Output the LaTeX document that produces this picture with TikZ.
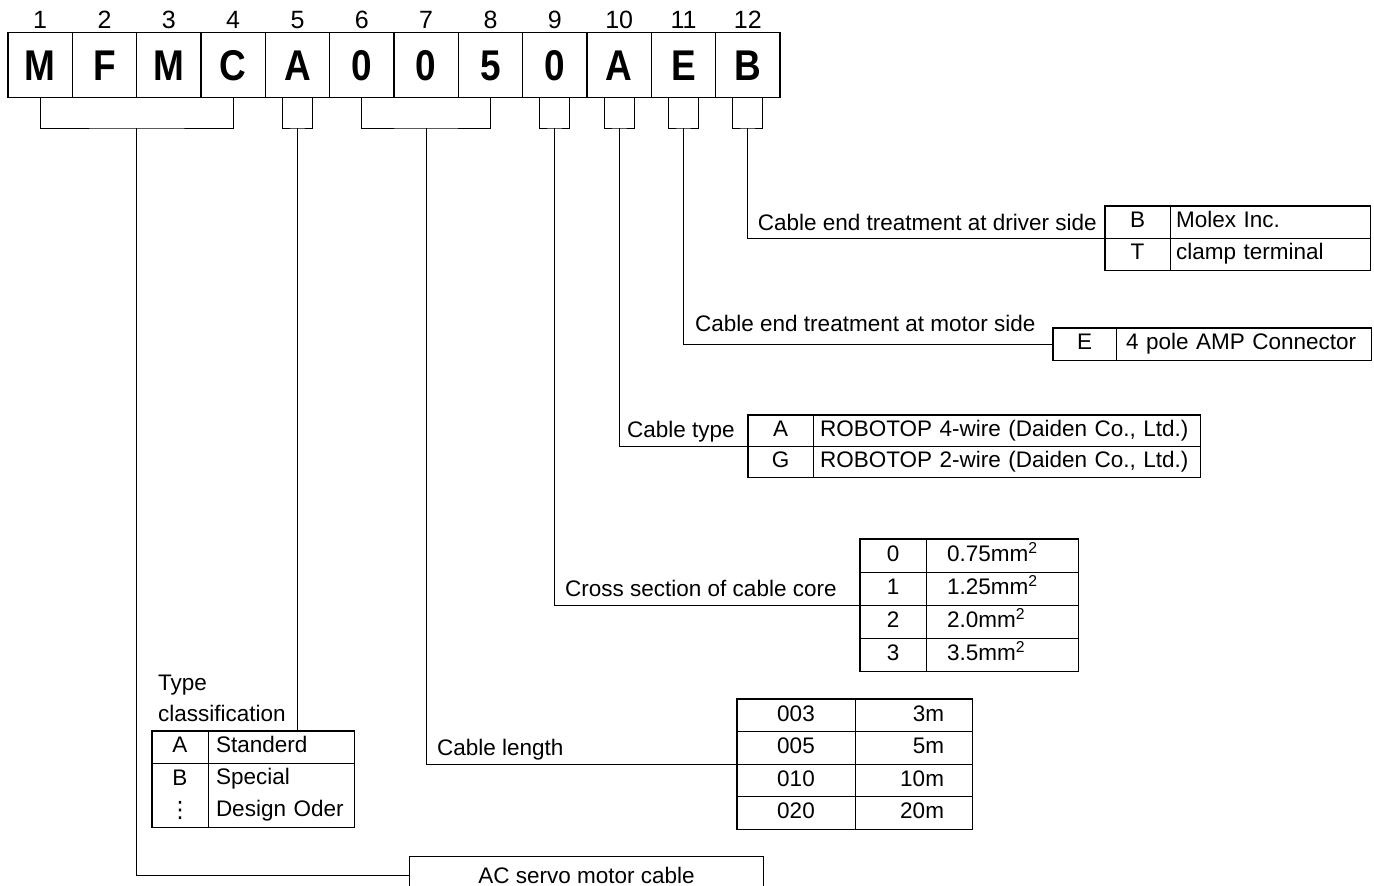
\documentclass[tikz,border=0pt]{standalone}
\usepackage{fontspec}
\setmainfont{Liberation Sans}
\newfontfamily\codefont{Liberation Sans}[FakeStretch=0.86]
\newfontfamily\dejavu{DejaVu Sans}
\begin{document}
\begin{tikzpicture}[x=1pt,y=-1pt]
\tikzset{
  conn/.style={line width=1pt},
  outer/.style={line width=1.7pt},
  frame/.style={line width=1.3pt},
  codebox/.style={draw, line width=1.2pt, minimum width=64.33pt, minimum height=65pt, inner sep=0pt,
    text height=31pt, text depth=0pt,
    font=\codefont\bfseries\fontsize{43}{43}\selectfont},
  num/.style={inner sep=0pt, font=\fontsize{25}{25}\selectfont},
  txt/.style={inner sep=0pt, font=\fontsize{22.5}{26}\selectfont},
  cell/.style={draw, line width=0.8pt, inner ysep=0pt, font=\fontsize{22.5}{26}\selectfont,
    text height=16pt, text depth=4.5pt},
  cellm/.style={draw, line width=0.8pt, inner ysep=0pt, font=\fontsize{22.5}{32}\selectfont},
}
\useasboundingbox (0,0) rectangle (1374,886);
\fill[white] (0,0) rectangle (1374,886);

% code boxes and position numbers
\foreach \L [count=\i] in {M,F,M,C,A,0,0,5,0,A,E,B} {
  \pgfmathsetmacro\cx{8+64.333*(\i-0.5)}
  \node[codebox] (c\i) at (\cx,65) {\L};
  \node[num, anchor=base] (n\i) at (\cx,28) {\i};
}

% bracket joints
\coordinate (k14) at (136.67,128);
\coordinate (k5)  at (297.5,128);
\coordinate (k68) at (426.17,128);
\coordinate (k9)  at (554.83,128);
\coordinate (k10) at (619.17,128);
\coordinate (k11) at (683.5,128);
\coordinate (k12) at (747.83,128);

\draw[conn] (c1.south) |- (k14) -| (c4.south);
\draw[conn] (c6.south) |- (k68) -| (c8.south);
\foreach \j in {5,9,10,11,12} {
  \draw[conn] ([xshift=-15pt]c\j.south) |- (k\j) -| ([xshift=15pt]c\j.south);
}

% driver side table
\node[cell, minimum width=65pt, minimum height=32pt] (dr1) at (1137.5,222) {B};
\node[cell, minimum width=200pt, minimum height=32pt, text width=188pt, inner xsep=6pt, align=left] (dr1t) at (1270,222) {Molex Inc.};
\node[cell, minimum width=65pt, minimum height=32pt] (dr2) at (1137.5,254) {T};
\node[cell, minimum width=200pt, minimum height=32pt, text width=188pt, inner xsep=6pt, align=left] (dr2t) at (1270,254) {clamp terminal};
\draw[outer] (dr1.north west) rectangle (dr2t.south east);
\node[txt, anchor=base east] (drL) at (1097,230) {Cable end treatment at driver side};

% motor side table
\node[cell, minimum width=63pt, minimum height=32pt] (mo1) at (1084.5,344) {E};
\node[cell, minimum width=255pt, minimum height=32pt, text width=235pt, inner xsep=10pt, align=left] (mo1t) at (1243.5,344) {4 pole AMP Connector};
\draw[outer] (mo1.north west) rectangle (mo1t.south east);
\node[txt, anchor=base west] (moL) at (695,331) {Cable end treatment at motor side};

% cable type table
\node[cell, minimum width=65pt, minimum height=31pt] (ct1) at (780.5,430.5) {A};
\node[cell, minimum width=387pt, minimum height=31pt, text width=373pt, inner xsep=7pt, align=left] (ct1t) at (1006.5,430.5) {ROBOTOP 4-wire (Daiden Co., Ltd.)};
\node[cell, minimum width=65pt, minimum height=31pt] (ct2) at (780.5,461.5) {G};
\node[cell, minimum width=387pt, minimum height=31pt, text width=373pt, inner xsep=7pt, align=left] (ct2t) at (1006.5,461.5) {ROBOTOP 2-wire (Daiden Co., Ltd.)};
\draw[outer] (ct1.north west) rectangle (ct2t.south east);
\node[txt, anchor=base west] (ctL) at (627,437) {Cable type};

% cross section table
\node[cell, minimum width=66pt, minimum height=33pt] (cs1) at (893,555.5) {0};
\node[cell, minimum width=152pt, minimum height=33pt, text width=110pt, inner xsep=21pt, align=left] (cs1t) at (1002,555.5) {0.75mm\textsuperscript{2}};
\node[cell, minimum width=66pt, minimum height=33pt] (cs2) at (893,588.5) {1};
\node[cell, minimum width=152pt, minimum height=33pt, text width=110pt, inner xsep=21pt, align=left] (cs2t) at (1002,588.5) {1.25mm\textsuperscript{2}};
\node[cell, minimum width=66pt, minimum height=33pt] (cs3) at (893,621.5) {2};
\node[cell, minimum width=152pt, minimum height=33pt, text width=110pt, inner xsep=21pt, align=left] (cs3t) at (1002,621.5) {2.0mm\textsuperscript{2}};
\node[cell, minimum width=66pt, minimum height=33pt] (cs4) at (893,654.5) {3};
\node[cell, minimum width=152pt, minimum height=33pt, text width=110pt, inner xsep=21pt, align=left] (cs4t) at (1002,654.5) {3.5mm\textsuperscript{2}};
\draw[outer] (cs1.north west) rectangle (cs4t.south east);
\node[txt, anchor=base west] (csL) at (565,596) {Cross section of cable core};

% cable length table
\node[cell, minimum width=118pt, minimum height=32.5pt] (len1) at (796,715.25) {003};
\node[cell, minimum width=117pt, minimum height=32.5pt, text width=61pt, inner xsep=28pt, align=right] (len1t) at (913.5,715.25) {3m};
\node[cell, minimum width=118pt, minimum height=32.5pt] (len2) at (796,747.75) {005};
\node[cell, minimum width=117pt, minimum height=32.5pt, text width=61pt, inner xsep=28pt, align=right] (len2t) at (913.5,747.75) {5m};
\node[cell, minimum width=118pt, minimum height=32.5pt] (len3) at (796,780.25) {010};
\node[cell, minimum width=117pt, minimum height=32.5pt, text width=61pt, inner xsep=28pt, align=right] (len3t) at (913.5,780.25) {10m};
\node[cell, minimum width=118pt, minimum height=32.5pt] (len4) at (796,812.75) {020};
\node[cell, minimum width=117pt, minimum height=32.5pt, text width=61pt, inner xsep=28pt, align=right] (len4t) at (913.5,812.75) {20m};
\draw[outer] (len1.north west) rectangle (len4t.south east);
\node[txt, anchor=base west] (lenL) at (437,755.5) {Cable length};

% type classification table
\node[cell, minimum width=56pt, minimum height=32pt] (ty1) at (180,747) {A};
\node[cell, minimum width=146pt, minimum height=32pt, text width=130pt, inner xsep=8pt, align=left] (ty1t) at (281,747) {Standerd};
\node[cellm, minimum width=56pt, minimum height=64pt, align=center] (ty2) at (180,795) {B\\{\dejavu ⋮}};
\node[cellm, minimum width=146pt, minimum height=64pt, text width=130pt, inner xsep=8pt, align=left] (ty2t) at (281,795) {Special\\Design Oder};
\draw[outer] (ty1.north west) rectangle (ty2t.south east);
\node[txt, anchor=base west] (tyL1) at (158,690.5) {Type};
\node[txt, anchor=base west] (tyL2) at (158,721.5) {classification};

% AC servo motor cable box (cut by the lower edge)
\node[txt, minimum width=353pt, minimum height=36pt] (ac) at (586.5,875) {AC servo motor cable};
\draw[frame] (ac.north west |- 0,886) -- (ac.north west) -- (ac.north east) -- (ac.north east |- 0,886);

% connectors
\draw[conn] (k14) |- (ac.west);
\draw[conn] (k5) -- (k5 |- ty1.north);
\draw[conn] (k68) |- (len2.south west);
\draw[conn] (k9) |- (cs2.south west);
\draw[conn] (k10) |- (ct1.south west);
\draw[conn] (k11) |- (mo1.west);
\draw[conn] (k12) |- (dr1.south west);
\end{tikzpicture}
\end{document}
